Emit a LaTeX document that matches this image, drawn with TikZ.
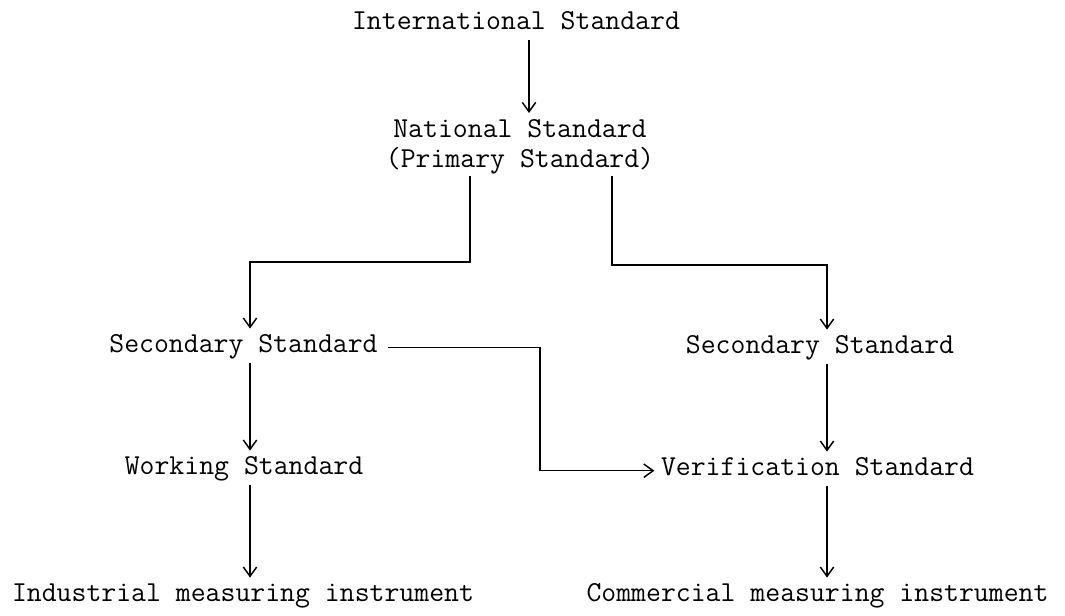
\documentclass[tikz,border=0pt]{standalone}
\usetikzlibrary{arrows.meta,positioning}

\begin{document}
\begin{tikzpicture}[
  x=0.75pt,y=-0.75pt,
  >={Straight Barb[length=7pt,width=10pt]},
  every node/.style={font=\ttfamily\fontsize{21.7}{22}\selectfont,
    inner sep=0pt,outer sep=2pt},
  stdtext/.style={anchor=base,text height=13.3pt,text depth=5.4pt},
  flow/.style={->,line width=1.1pt,shorten >=3pt}]
  \useasboundingbox (0,0) rectangle (1065,616);

  % standards, top to bottom
  \node[stdtext] (intl) at (516,30) {International Standard};
  \node[anchor=north,align=center] (natl) at (520,117)
    {National Standard\\(Primary Standard)};
  \node[stdtext] (secl) at (243.5,353) {Secondary Standard};
  \node[stdtext] (secr) at (820,354) {Secondary Standard};
  \node[stdtext] (work) at (244,475) {Working Standard};
  \node[stdtext] (verif) at (817.5,476) {Verification Standard};
  \node[stdtext] (ind) at (243,602) {Industrial measuring instrument};
  \node[stdtext] (comm) at (817.5,602) {Commercial measuring instrument};

  % columns and jogs of the connectors
  \coordinate (top) at (529,0);
  \coordinate (lcol) at (250,0);
  \coordinate (rcol) at (827,0);
  \coordinate (ljog) at (470,262);
  \coordinate (rjog) at (612,265);
  \coordinate (cross) at (540,0);

  \draw[flow] (intl.south -| top) -- (natl.north -| top);
  \draw[flow] (natl.south -| ljog) -- (ljog) -| (secl.north -| lcol);
  \draw[flow] (natl.south -| rjog) -- (rjog) -| (secr.north -| rcol);
  \draw[flow] (secl.south -| lcol) -- (work.north -| lcol);
  \draw[flow] (work.south -| lcol) -- (ind.north -| lcol);
  \draw[flow] (secr.south -| rcol) -- (verif.north -| rcol);
  \draw[flow] (verif.south -| rcol) -- (comm.north -| rcol);
  \draw[flow,shorten <=6pt] (secl.east) -| (verif.west -| cross)
    -- (verif.west);
\end{tikzpicture}
\end{document}
